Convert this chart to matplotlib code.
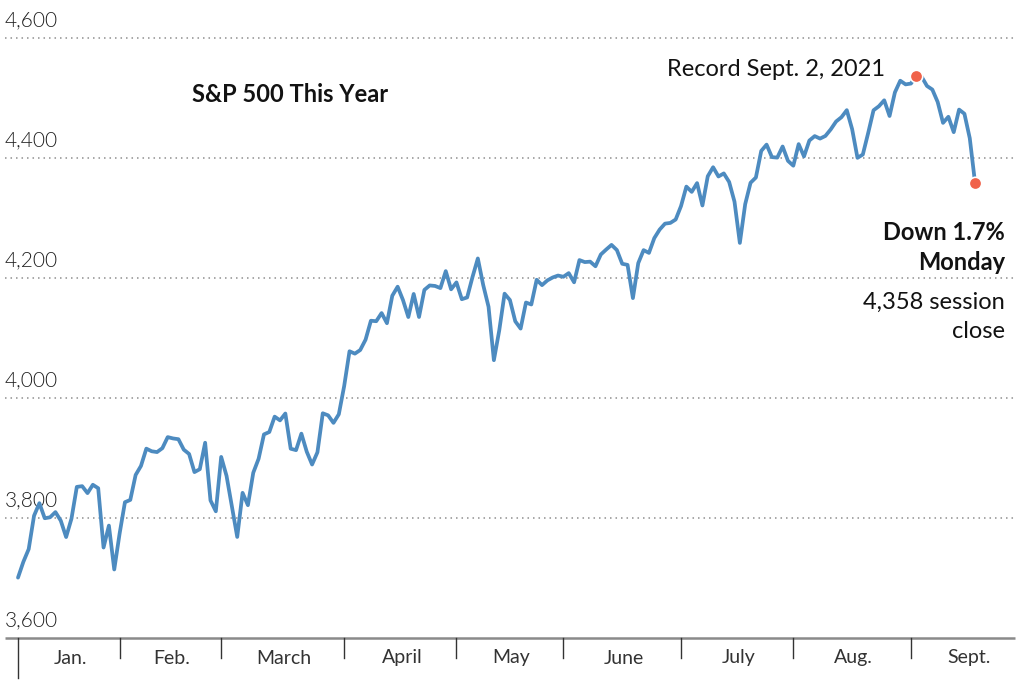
import matplotlib
matplotlib.use("Agg")
import matplotlib.pyplot as plt
import numpy as np

# S&P 500 daily closes, Jan 4 - Sept 20, 2021 (one list per month)
jan = [3700.65, 3726.86, 3748.14, 3803.79, 3824.68, 3799.61, 3801.19, 3809.84, 3795.54, 3768.25,
       3798.91, 3851.85, 3853.07, 3841.47, 3855.36, 3849.62, 3750.77, 3787.38, 3714.24]
feb = [3773.86, 3826.31, 3830.17, 3871.74, 3886.83, 3915.59, 3911.23, 3909.88, 3916.38, 3934.83,
       3932.59, 3931.33, 3913.97, 3906.71, 3876.50, 3881.37, 3925.43, 3829.34, 3811.15]
mar = [3901.82, 3870.29, 3819.72, 3768.47, 3841.94, 3821.35, 3875.44, 3898.81, 3939.34, 3943.34,
       3968.94, 3962.71, 3974.12, 3915.46, 3913.10, 3940.59, 3910.52, 3889.14, 3909.52, 3974.54,
       3971.09, 3958.55, 3972.89]
apr = [4019.87, 4077.91, 4073.94, 4079.95, 4097.17, 4128.80, 4127.99, 4141.59, 4124.66, 4170.42,
       4185.47, 4163.26, 4134.94, 4173.42, 4134.98, 4180.17, 4187.62, 4186.72, 4183.18, 4211.47,
       4181.17]
may = [4192.66, 4164.66, 4167.59, 4201.62, 4232.60, 4188.43, 4152.10, 4063.04, 4112.50, 4173.85,
       4163.29, 4127.83, 4115.68, 4159.12, 4155.86, 4197.05, 4188.13, 4195.99, 4200.88, 4204.11]
jun = [4202.04, 4208.12, 4192.85, 4229.89, 4226.52, 4227.26, 4219.55, 4239.18, 4247.44, 4255.15,
       4246.59, 4223.70, 4221.86, 4166.45, 4224.79, 4246.44, 4241.84, 4266.49, 4280.70, 4290.61,
       4291.80, 4297.50]
jul = [4319.94, 4352.34, 4343.54, 4358.13, 4320.82, 4369.55, 4384.63, 4369.21, 4374.30, 4360.03,
       4327.16, 4258.49, 4323.06, 4358.69, 4367.48, 4411.79, 4422.30, 4401.46, 4400.64, 4419.15,
       4395.26]
aug = [4387.16, 4423.15, 4402.66, 4429.10, 4436.52, 4432.35, 4436.75, 4447.70, 4460.83, 4468.00,
       4479.71, 4448.08, 4400.27, 4405.80, 4441.67, 4479.53, 4486.23, 4496.19, 4470.00, 4509.37,
       4528.79, 4522.68]
sep = [4524.09, 4536.95, 4535.43, 4520.03, 4514.07, 4493.28, 4458.58, 4468.73, 4443.05, 4480.70,
       4473.75, 4432.99, 4357.73]

months = [jan, feb, mar, apr, may, jun, jul, aug, sep]
month_labels = ["Jan.", "Feb.", "March", "April", "May", "June", "July", "Aug.", "Sept."]
sep_trading_days = 21
y_ticks = [3600, 3800, 4000, 4200, 4400, 4600]
y_tick_labels = ["3,600", "3,800", "4,000", "4,200", "4,400", "4,600"]

closes = np.concatenate(months)
idx = np.arange(len(closes))
peak_i = int(np.argmax(closes))

month_starts = np.cumsum([0] + [len(m) for m in months[:-1]])
month_ends = list(month_starts[1:]) + [month_starts[-1] + sep_trading_days]

plt.rcParams["font.family"] = ["Lato", "DejaVu Sans"]

fig = plt.figure(figsize=(10.24, 6.81), dpi=100)
ax = fig.add_axes([0, 0, 1, 1])
ax.axis("off")

# pixel mapping: index 0 at x=18, 5.347 px per day; 4600 at y=38, 0.6 px per point
px_day = 5.347
px_pt = 0.6
ax.set_xlim(-18 / px_day, (1024 - 18) / px_day)
ax.set_ylim(4600 - (681 - 38) / px_pt, 4600 + 38 / px_pt)

x_left = -13 / px_day
x_right = (1015 - 18) / px_day

# gridlines and labels
for v, lab in zip(y_ticks, y_tick_labels):
    if v == y_ticks[0]:
        ax.plot([x_left, x_right], [v, v], color="#8a8a8a", lw=1.8, solid_capstyle="butt")
    else:
        ax.plot([x_left, x_right], [v, v], color="#8f8f8f", lw=1.1, ls=(0, (1, 2.6)))
    ax.text(x_left, v + 19, lab, fontsize=15, fontweight=300, color="#222222",
            ha="left", va="baseline")

# month ticks
tick_len = 20 / px_pt
for k, s in enumerate(month_starts):
    ln = 40 / px_pt if k == 0 else tick_len
    ax.plot([s, s], [3600, 3600 - ln], color="#333333", lw=1)
for lab, s, e in zip(month_labels, month_starts, month_ends):
    ax.text((s + e) / 2 + 0.3, 3600 - 20 / px_pt, lab, fontsize=14, color="#333333",
            ha="center", va="center")

# the line
ax.plot(idx, closes, color="#4d8bc0", lw=2.7, solid_joinstyle="round", solid_capstyle="round",
        zorder=3)
ax.scatter([idx[peak_i], idx[-1]], [closes[peak_i], closes[-1]], s=80, color="#f0624a",
           edgecolor="white", linewidth=1.2, zorder=4)

# annotations
ax.text((290 - 18) / px_day, 4600 - (95 - 38) / px_pt, "S&P 500 This Year", fontsize=17,
        fontweight="bold", color="#121212", ha="center", va="center")
ax.text((885 - 18) / px_day, 4600 - (70 - 38) / px_pt, "Record Sept. 2, 2021", fontsize=17,
        color="#121212", ha="right", va="center")
ann_x = (1005 - 18) / px_day
ax.text(ann_x, 4600 - (232 - 38) / px_pt, "Down 1.7%", fontsize=17, fontweight="bold",
        color="#121212", ha="right", va="center")
ax.text(ann_x, 4600 - (262 - 38) / px_pt, "Monday", fontsize=17, fontweight="bold",
        color="#121212", ha="right", va="center")
ax.text(ann_x, 4600 - (302 - 38) / px_pt, "4,358 session", fontsize=17,
        color="#121212", ha="right", va="center")
ax.text(ann_x, 4600 - (332 - 38) / px_pt, "close", fontsize=17,
        color="#121212", ha="right", va="center")

fig.savefig("out.png", dpi=100, facecolor="white")
